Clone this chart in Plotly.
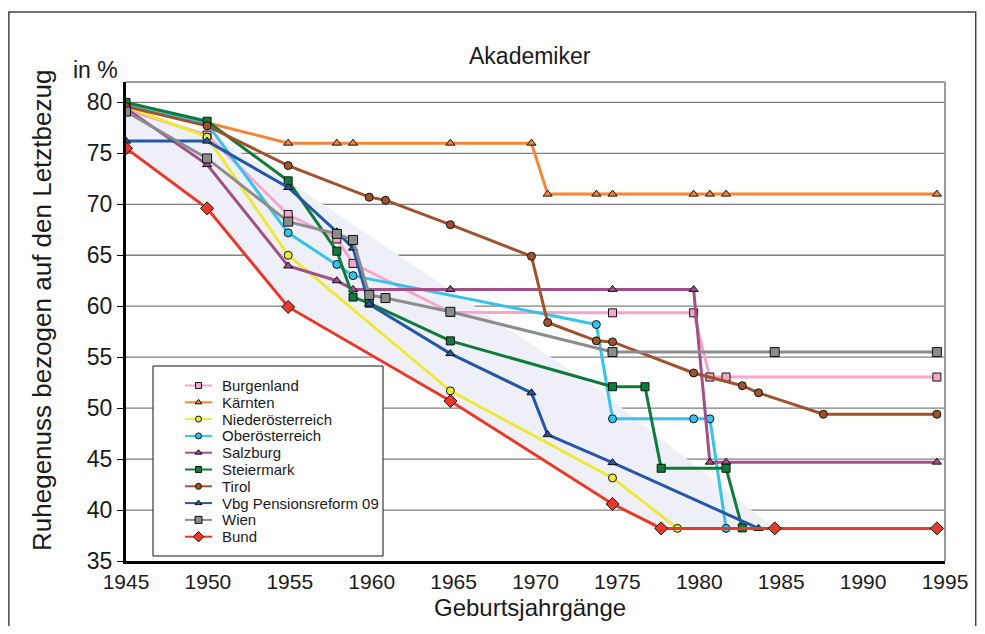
import numpy as np
import plotly.graph_objects as go

# ── Data (Geburtsjahrgang -> Ruhegenuss in % des Letztbezugs) ─────────
burgenland_x = [1945, 1950, 1955, 1958, 1959, 1965, 1975, 1980, 1981, 1982, 1995]
burgenland_y = [79.3, 76.8, 69.0, 66.6, 64.2, 59.4, 59.35, 59.35, 53.05, 53.05, 53.05]

kaernten_x = [1945, 1950, 1955, 1958, 1959, 1965, 1970, 1971, 1974, 1975, 1980, 1981, 1982, 1995]
kaernten_y = [79.8, 78.0, 76.0, 76.0, 76.0, 76.0, 76.0, 71.0, 71.0, 71.0, 71.0, 71.0, 71.0, 71.0]

noe_x = [1945, 1950, 1955, 1965, 1975, 1979]
noe_y = [79.6, 76.6, 65.0, 51.7, 43.15, 38.2]

ooe_x = [1945, 1950, 1955, 1958, 1959, 1974, 1975, 1980, 1981, 1982]
ooe_y = [79.7, 77.9, 67.2, 64.1, 63.0, 58.2, 48.95, 48.95, 48.95, 38.2]

salzburg_x = [1945, 1950, 1955, 1958, 1959, 1965, 1975, 1980, 1981, 1982, 1995]
salzburg_y = [79.4, 73.9, 63.95, 62.5, 61.65, 61.65, 61.65, 61.65, 44.7, 44.7, 44.7]

steiermark_x = [1945, 1950, 1955, 1958, 1959, 1960, 1965, 1975, 1977, 1978, 1982, 1983]
steiermark_y = [80.0, 78.15, 72.3, 65.4, 60.9, 60.3, 56.6, 52.1, 52.1, 44.1, 44.1, 38.25]

tirol_x = [1945, 1950, 1955, 1960, 1961, 1965, 1970, 1971, 1974, 1975, 1980, 1983, 1984, 1988, 1995]
tirol_y = [79.6, 77.7, 73.8, 70.7, 70.4, 68.0, 64.9, 58.4, 56.6, 56.5, 53.45, 52.2, 51.5, 49.4, 49.4]

vbg_x = [1945, 1950, 1955, 1958, 1959, 1960, 1965, 1970, 1971, 1975, 1984]
vbg_y = [76.2, 76.2, 71.65, 67.3, 65.7, 60.2, 55.35, 51.5, 47.4, 44.65, 38.2]

wien_x = [1945, 1950, 1955, 1958, 1959, 1960, 1961, 1965, 1975, 1985, 1995]
wien_y = [79.1, 74.5, 68.3, 67.1, 66.5, 61.1, 60.8, 59.45, 55.5, 55.5, 55.5]

bund_x = [1945, 1950, 1955, 1965, 1975, 1978, 1985, 1995]
bund_y = [75.5, 69.6, 59.93, 50.7, 40.6, 38.2, 38.2, 38.2]

# shaded corridor: upper edge, lower edge follows Bund
band_upper_x = [1945, 1950, 1955, 1962, 1974, 1985]
band_upper_y = [79.1, 77.0, 72.3, 64.8, 52.0, 38.2]

year_labels = [str(y) for y in range(1945, 1996, 5)]
y_ticks = list(range(35, 81, 5))
X_RANGE = [1945, 1995.5]
Y_RANGE = [35, 82]

FONT = "Liberation Sans, Arial, sans-serif"
TEXT = "#1a1a1a"
GRID = "#7f7f7f"

series = [
    ("Burgenland", burgenland_x, burgenland_y, "#F4A7CA", "square", 8),
    ("Kärnten", kaernten_x, kaernten_y, "#F58634", "triangle-up", 8),
    ("Niederösterreich", noe_x, noe_y, "#EEE83A", "circle", 8),
    ("Oberösterreich", ooe_x, ooe_y, "#35C3EC", "circle", 8),
    ("Salzburg", salzburg_x, salzburg_y, "#A24F88", "triangle-up", 8),
    ("Steiermark", steiermark_x, steiermark_y, "#0F7B3A", "square", 8),
    ("Tirol", tirol_x, tirol_y, "#A0522D", "circle", 8),
    ("Vbg Pensionsreform 09", vbg_x, vbg_y, "#2557A8", "triangle-up", 8),
    ("Wien", wien_x, wien_y, "#8A8C8E", "square", 9),
    ("Bund", bund_x, bund_y, "#E8392A", "diamond", 10),
]

# the page body has an 8px margin on every side; shrink the figure so
# the plot area lands where it sits in the original and nothing scrolls
PAGE_PAD = 8
PLOT_W, PLOT_H = 819, 479

fig = go.Figure()

# corridor polygon (upper edge forward, Bund backward)
fig.add_trace(go.Scatter(
    x=band_upper_x + bund_x[::-1],
    y=band_upper_y + bund_y[::-1],
    fill="toself", fillcolor="#EFF0F7", mode="none",
    hoverinfo="skip", showlegend=False,
))

for name, xs, ys, color, sym, size in series:
    fig.add_trace(go.Scatter(
        x=xs, y=ys, name=name, mode="lines+markers",
        line=dict(color=color, width=3),
        marker=dict(symbol=sym, size=size, color=color,
                    line=dict(color="#111111", width=1)),
        showlegend=False,
    ))

# ── hand-made legend on an overlaid pixel-scaled axis pair ─────────────
LEG_X0, LEG_X1, LEG_Y0, LEG_Y1 = 27, 257, 284, 474   # box (px inside plot area)
ROW0, ROW_STEP = 303.5, 16.8
annotations = []
for i, (name, xs, ys, color, sym, size) in enumerate(series):
    ry = ROW0 + i * ROW_STEP
    fig.add_trace(go.Scatter(
        x=[59, 86], y=[ry, ry], xaxis="x2", yaxis="y2", mode="lines",
        line=dict(color=color, width=2), hoverinfo="skip", showlegend=False,
    ))
    fig.add_trace(go.Scatter(
        x=[72.5], y=[ry], xaxis="x2", yaxis="y2", mode="markers",
        marker=dict(symbol=sym, size=size - 2, color=color,
                    line=dict(color="#111111", width=1)),
        hoverinfo="skip", showlegend=False,
    ))
    annotations.append(dict(
        text=name, xref="x2", yref="y2", x=94, y=ry, xanchor="left",
        yanchor="middle", showarrow=False, font=dict(size=15, color=TEXT),
    ))

# y gridlines drawn as shapes so the legend box can mask them
shapes = [
    dict(type="line", xref="paper", yref="y", x0=0, x1=1, y0=v, y1=v,
         layer="below", line=dict(color=GRID, width=1.3))
    for v in y_ticks[1:]
]
shapes += [
    # legend box (same layer as the gridlines, drawn after them)
    dict(type="rect", xref="paper", yref="paper",
         x0=LEG_X0 / PLOT_W, x1=LEG_X1 / PLOT_W,
         y0=1 - LEG_Y1 / PLOT_H, y1=1 - LEG_Y0 / PLOT_H,
         layer="below", fillcolor="white", line=dict(color="#111111", width=1)),
    # plot frame top / right
    dict(type="line", xref="paper", yref="paper", x0=0, x1=1, y0=1, y1=1,
         line=dict(color="#9a9a9a", width=2)),
    dict(type="line", xref="paper", yref="paper", x0=1, x1=1, y0=0, y1=1,
         line=dict(color="#9a9a9a", width=2)),
    # outer frame
    dict(type="rect", xref="paper", yref="paper",
         x0=-0.143, x1=1.0375, y0=-0.2, y1=1.146,
         line=dict(color="#444444", width=1.5)),
]

annotations += [
    dict(text="Akademiker", xref="paper", yref="paper", x=0.493, y=1.054,
         xanchor="center", yanchor="middle", showarrow=False,
         font=dict(size=23, color=TEXT)),
    dict(text="in %", xref="paper", yref="paper", x=-0.037, y=1.025,
         xanchor="center", yanchor="middle", showarrow=False,
         font=dict(size=23, color=TEXT)),
    dict(text="Geburtsjahrgänge", xref="paper", yref="paper", x=0.493, y=-0.098,
         xanchor="center", yanchor="middle", showarrow=False,
         font=dict(size=24, color=TEXT)),
    dict(text="Ruhegenuss bezogen auf den Letztbezug", xref="paper", yref="paper",
         x=-0.1026, y=0.524, xanchor="center", yanchor="middle", textangle=-90,
         showarrow=False, font=dict(size=26, color=TEXT)),
]

fig.update_layout(
    width=985 - PAGE_PAD, height=634 - 2 * PAGE_PAD,
    margin=dict(l=126 - PAGE_PAD, r=40, t=82 - PAGE_PAD, b=73 - PAGE_PAD),
    plot_bgcolor="white", paper_bgcolor="white",
    font=dict(family=FONT, size=14, color=TEXT),
    showlegend=False,
    xaxis=dict(
        range=X_RANGE, tickvals=list(np.linspace(X_RANGE[0], X_RANGE[1], len(year_labels))),
        ticktext=year_labels, showgrid=False, zeroline=False,
        showline=True, linecolor="black", linewidth=3,
        ticks="", tickfont=dict(size=21, color=TEXT),
    ),
    yaxis=dict(
        range=Y_RANGE, tickvals=y_ticks,
        showgrid=False, zeroline=False,
        showline=True, linecolor="black", linewidth=3,
        ticks="outside", ticklen=6, tickcolor="black",
        tickfont=dict(size=23, color=TEXT),
    ),
    xaxis2=dict(overlaying="x", anchor="y2", range=[0, PLOT_W], visible=False,
                fixedrange=True),
    yaxis2=dict(overlaying="y", anchor="x2", range=[PLOT_H, 0], visible=False,
                fixedrange=True),
    shapes=shapes,
    annotations=annotations,
)

fig.write_html("out.html")
